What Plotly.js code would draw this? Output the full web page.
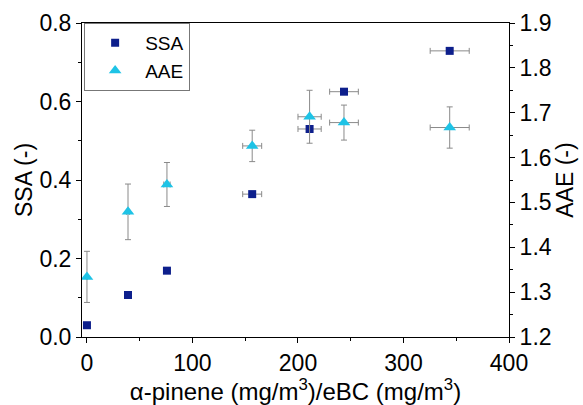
<!DOCTYPE html>
<html><head><meta charset="utf-8">
<script src="https://cdn.plot.ly/plotly-3.0.1.min.js"></script>
<style>html,body{margin:0;padding:0;background:#fff}#c{width:583px;height:405px}</style>
</head><body><div id="c"></div>
<script>
var ratio = [0, 38.9, 75.8, 156.6, 211, 243.6, 343.8];
var ratioErr = [0.5, 1.5, 3, 9, 11, 13.6, 18.5];
var ssa = [0.03, 0.107, 0.169, 0.364, 0.53, 0.625, 0.729];
var aae = [1.334, 1.479, 1.540, 1.626, 1.691, 1.678, 1.667];
var aaeErr = [0.057, 0.062, 0.049, 0.035, 0.059, 0.039, 0.046];

var FONT = 'Arial, Liberation Sans, sans-serif';
var errX = {type:'data', array: ratioErr, visible:true, color:'#8a8a8a', thickness:1, width:3};
var traces = [
  {x: ratio, y: ssa, name: 'SSA', type:'scatter', mode:'markers',
   marker:{symbol:'square', size:8, color:'#0d1f8c'}, error_x: errX},
  {x: ratio, y: aae, name: 'AAE', type:'scatter', mode:'markers', yaxis:'y2',
   marker:{symbol:'triangle-up', size:11, color:'#1ec3e6'},
   error_x: errX,
   error_y:{type:'data', array: aaeErr, visible:true, color:'#8a8a8a', thickness:1, width:3}}
];
var layout = {
  width:583, height:405, margin:{l:82, r:74, t:23, b:68},
  paper_bgcolor:'#fff', plot_bgcolor:'#fff', showlegend:true,
  font:{family:FONT, size:23, color:'#000'},
  xaxis:{range:[-4.7,400], dtick:100, tick0:0, ticks:'outside', ticklen:5, tickcolor:'#000',
    showline:true, linecolor:'#000', linewidth:1, mirror:true, showgrid:false, zeroline:false,
    minor:{dtick:50, ticks:'outside', ticklen:3, tickcolor:'#000', showgrid:false},
    tickfont:{size:23}, title:{text:'α-pinene (mg/m<sup>3</sup>)/eBC (mg/m<sup>3</sup>)', font:{size:24}, standoff:5}},
  yaxis:{range:[0,0.8], dtick:0.2, tickformat:'.1f', ticks:'outside', ticklen:5, tickcolor:'#000',
    showline:true, linecolor:'#000', linewidth:1, showgrid:false, zeroline:false,
    minor:{dtick:0.1, ticks:'outside', ticklen:3, tickcolor:'#000', showgrid:false},
    tickfont:{size:23}, title:{text:'SSA (-)', font:{size:23}, standoff:0}},
  yaxis2:{range:[1.2,1.9], dtick:0.1, tickformat:'.1f', overlaying:'y', side:'right', ticks:'outside', ticklen:5, tickcolor:'#000',
    showline:true, linecolor:'#000', linewidth:1, showgrid:false, zeroline:false,
    minor:{dtick:0.05, ticks:'outside', ticklen:3, tickcolor:'#000', showgrid:false},
    tickfont:{size:23}, title:{text:'AAE (-)', font:{size:23}, standoff:4}},
  legend:{x:0.005, y:1, xanchor:'left', yanchor:'top', bgcolor:'#fff', bordercolor:'#777', borderwidth:1,
    font:{size:19}, tracegroupgap:0, itemwidth:50}
};
Plotly.newPlot('c', traces, layout, {displayModeBar:false, staticPlot:true});
</script></body></html>
